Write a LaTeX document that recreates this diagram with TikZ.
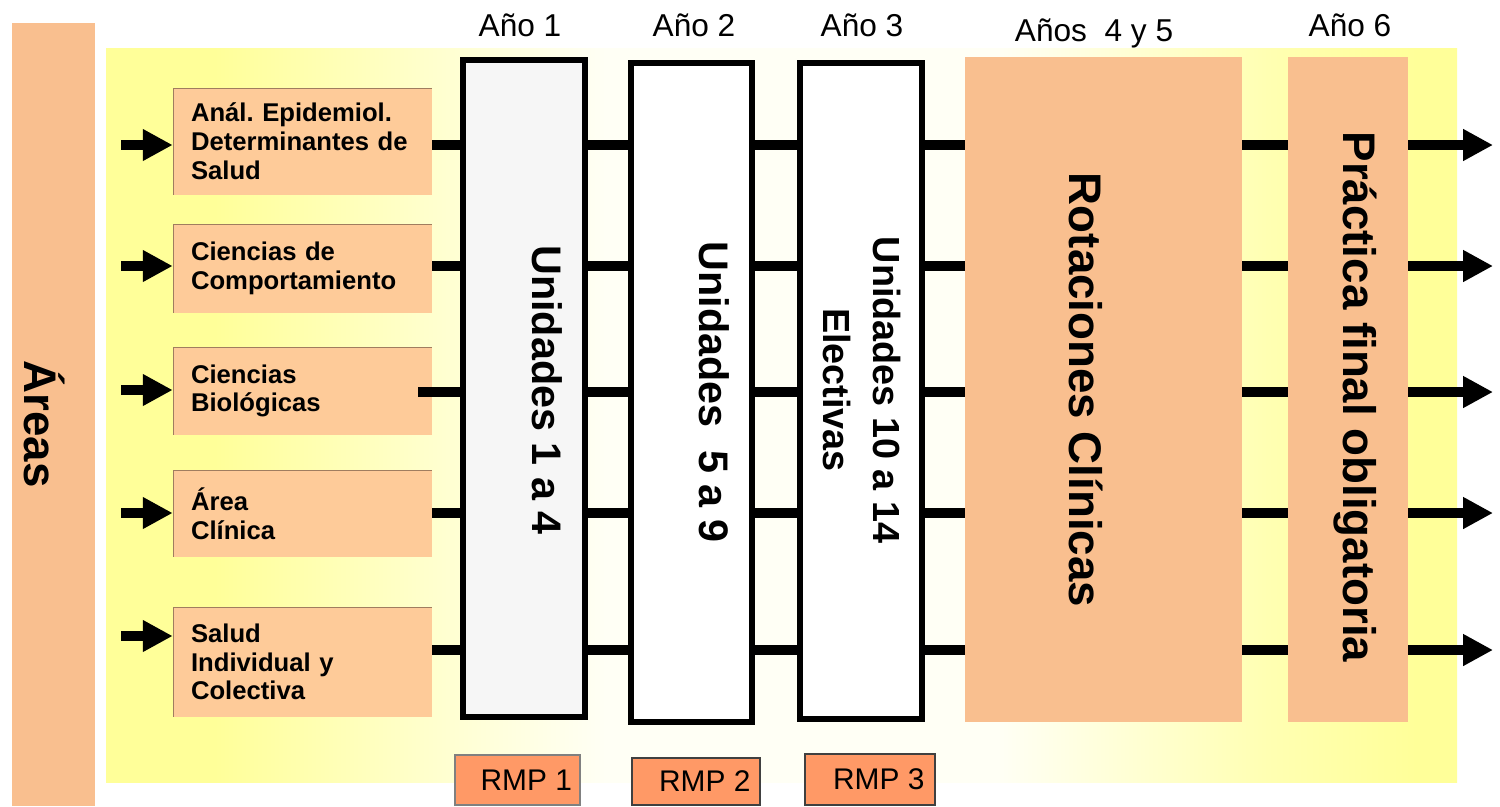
\documentclass[tikz,border=0pt]{standalone}
\usepackage{fontspec}
\setmainfont{Liberation Sans}
\usetikzlibrary{arrows.meta,fit,positioning}

\definecolor{peach}{RGB}{249,191,143}
\definecolor{areapeach}{RGB}{254,203,153}
\definecolor{rmporange}{RGB}{255,153,102}
\definecolor{paleyellow}{RGB}{255,255,153}
\definecolor{lightyellow}{RGB}{255,255,205}
\definecolor{softyellow}{RGB}{255,255,178}
\definecolor{nearwhite}{RGB}{255,255,245}
\definecolor{unitgray}{RGB}{246,246,246}
\definecolor{boxedge}{RGB}{160,125,95}

\pgfdeclarehorizontalshading{bgyellow}{100bp}{
  color(0bp)=(paleyellow); color(29bp)=(paleyellow); color(37bp)=(lightyellow);
  color(43.5bp)=(nearwhite); color(58bp)=(nearwhite); color(68bp)=(softyellow);
  color(73.5bp)=(paleyellow); color(100bp)=(paleyellow)}

\tikzset{
  areabox/.style={fill=areapeach, text width=4.46cm, inner xsep=0.36cm, inner ysep=0pt,
    align=left, font=\bfseries\fontsize{14.6}{16.4}\selectfont,
    path picture={\draw[boxedge, line width=1.2pt] (path picture bounding box.south west)
      |- (path picture bounding box.north east);}},
  unitbox/.style={draw=black, line width=3.4pt, inner sep=0pt},
  peachbox/.style={fill=peach, inner sep=0pt},
  rmpbox/.style={fill=rmporange, draw=#1, line width=0.9pt, inner sep=0pt,
    font=\fontsize{17}{20}\selectfont},
  rmpbox/.default=darkgray,
  yearlabel/.style={inner sep=0pt, font=\fontsize{18}{20}\selectfont},
  vtext/.style={rotate=-90, inner sep=0pt, align=center},
  rowline/.style={line width=5.4pt},
  fatarrow/.style={line width=6pt, -{Triangle[length=17pt, width=17pt]}},
}

\begin{document}
\frenchspacing
\begin{tikzpicture}[x=0.02cm, y=-0.02cm]
  \useasboundingbox (0,0) rectangle (1500,806);

  % background
  \fill[shading=bgyellow] (106,48) rectangle (1457,782);
  \node[peachbox, fit={(12,23) (95,806)}] (areas) {};
  \node[vtext, font=\bfseries\fontsize{26}{28}\selectfont] (areastext) at (45,424) {Áreas};

  % areas
  \node[areabox, minimum height=2.14cm] (a1) at (302.5,141.5) {Anál. Epidemiol.\\Determinantes de\\Salud};
  \node[areabox, minimum height=1.78cm] (a2) at (302.5,268.5) {Ciencias de\\Comportamiento};
  \node[areabox, minimum height=1.76cm] (a3) at (302.5,391) {Ciencias\\Biológicas};
  \node[areabox, minimum height=1.74cm] (a4) at (302.5,513.5) {Área\\Clínica};
  \node[areabox, minimum height=2.20cm] (a5) at (302.5,662) {Salud\\Individual y\\Colectiva};

  % years
  \node[unitbox, fill=unitgray, fit={(463,60) (585,717)}] (u1) {};
  \node[unitbox, fill=white, fit={(631,63) (752,722)}] (u2) {};
  \node[unitbox, fill=white, fit={(800,63) (922,719)}] (u3) {};
  \node[peachbox, fit={(965,57) (1242,722)}] (rot) {};
  \node[peachbox, fit={(1288,57) (1408,722)}] (prac) {};

  \node[vtext, font=\bfseries\fontsize{23.5}{28}\selectfont] (u1text) at (547,390) {Unidades 1 a 4};
  \node[vtext, font=\bfseries\fontsize{23.5}{28}\selectfont] (u2text) at (714,392) {Unidades\ \ 5 a 9};
  \node[vtext, font=\bfseries\fontsize{21.5}{29}\selectfont] (u3text) at (862,390) {Unidades 10 a 14\\Electivas};
  \node[vtext, font=\bfseries\fontsize{26}{28}\selectfont] (rottext) at (1086,390) {Rotaciones Clínicas};
  \node[vtext, font=\bfseries\fontsize{26}{28}\selectfont] (practext) at (1355,397) {Práctica final obligatoria};

  \node[yearlabel] (y1) at (520,25) {Año 1};
  \node[yearlabel] (y2) at (694,25) {Año 2};
  \node[yearlabel] (y3) at (862,25) {Año 3};
  \node[yearlabel] (y45) at (1094,33) {Años\ \ 4 y 5};
  \node[yearlabel] (y6) at (1350,25) {Año 6};

  \node[rmpbox=gray, minimum width=2.5cm, minimum height=1cm] (rmp1) at (517.5,780) {\hspace{10pt}RMP 1};
  \node[rmpbox, minimum width=2.56cm, minimum height=0.94cm] (rmp2) at (696,781.5) {\hspace{10pt}RMP 2};
  \node[rmpbox, minimum width=2.6cm, minimum height=1.02cm] (rmp3) at (870,779.5) {\hspace{10pt}RMP 3};

  % rows
  \foreach \i/\y/\yin/\s in {1/145/145/0, 2/266/266/0, 3/392/390/14, 4/513/513/0, 5/650/636/0} {
    \coordinate (r\i) at (0,\y);
    \coordinate (in\i) at (121,\yin);
    \coordinate (out\i) at (1493,\y);
    \draw[fatarrow] (in\i) -- (a\i.west |- in\i);
    \draw[rowline] (a\i.east |- r\i) ++(-\s,0) -- (u1.west |- r\i);
    \foreach \p/\q in {u1/u2, u2/u3, u3/rot, rot/prac}
      \draw[rowline] (\p.east |- r\i) -- (\q.west |- r\i);
    \draw[fatarrow] (prac.east |- r\i) -- (out\i);
  }
\end{tikzpicture}
\end{document}
